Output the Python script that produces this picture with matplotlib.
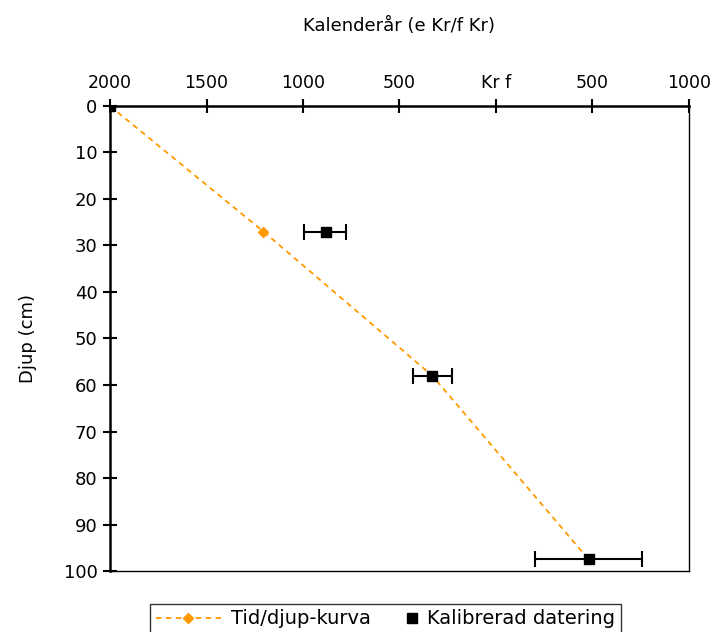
import matplotlib
matplotlib.use("Agg")
import matplotlib.pyplot as plt
from matplotlib.ticker import FixedLocator
from matplotlib.lines import Line2D
from matplotlib.legend_handler import HandlerLine2D

# Age-depth model (calendar year, AD positive / BC negative)
model_years = [2000, 1205, 330, -480]
model_depths = [0, 27, 58, 97.5]

# Calibrated datings
cal_years = [2000, 880, 330, -480]
cal_depths = [0, 27, 58, 97.5]
cal_err_older = [0, 115, 100, 280]   # towards older (left on axis)
cal_err_younger = [0, 105, 100, 275]

x_ticks = [2000, 1500, 1000, 500, 0, -500, -1000]
x_ticklabels = ["2000", "1500", "1000", "500", "Kr f", "500", "1000"]
y_ticks = [0, 10, 20, 30, 40, 50, 60, 70, 80, 90, 100]

plt.rcParams['font.family'] = ['DejaVu Sans']
fig = plt.figure(figsize=(7.13, 6.32), dpi=100)
ax = fig.add_axes([0.1543, 0.0965, 0.9663 - 0.1543, 0.8323 - 0.0965])

orange = '#FF9900'
ax.plot(model_years, model_depths, linestyle=(0, (3, 2.5)), color=orange, lw=1.3,
        marker='D', markersize=5, zorder=2)

# xerr: first row = minus side (smaller year), second = plus side (larger year)
ax.errorbar(cal_years, cal_depths, xerr=[cal_err_younger, cal_err_older], fmt='s',
            color='black', markersize=7, ecolor='black', elinewidth=1.5,
            capsize=6, capthick=1.5, zorder=3)

ax.set_xlim(2000, -1000)
ax.set_ylim(100, 0)
ax.xaxis.set_major_locator(FixedLocator(x_ticks))
ax.set_xticklabels(x_ticklabels)
ax.yaxis.set_major_locator(FixedLocator(y_ticks))
ax.xaxis.tick_top()
ax.xaxis.set_label_position('top')
ax.tick_params(axis='x', direction='inout', length=10, width=1.5, labelsize=12.5, pad=5)
ax.tick_params(axis='y', direction='inout', length=10, width=1.5, labelsize=13, pad=4)
for s in ['left', 'top']:
    ax.spines[s].set_linewidth(1.8)
for s in ['right', 'bottom']:
    ax.spines[s].set_linewidth(1.0)
ax.set_xlabel('Kalenderår (e Kr/f Kr)', fontsize=13, labelpad=31)
ax.set_ylabel('Djup (cm)', fontsize=13, labelpad=19)


class NarrowHandler(HandlerLine2D):
    def __init__(self, width_px, **kw):
        super().__init__(**kw)
        self.width_px = width_px

    def legend_artist(self, legend, orig_handle, fontsize, handlebox):
        handlebox.width = self.width_px
        return super().legend_artist(legend, orig_handle, fontsize, handlebox)


h1 = Line2D([], [], linestyle=(0, (3, 2.5)), color=orange, lw=1.3, marker='D', markersize=5)
h2 = Line2D([], [], linestyle='none', color='black', marker='s', markersize=7)
labels = ['Tid/djup-kurva', 'Kalibrerad datering']
leg = fig.legend([h1, h2], labels, loc='upper left', bbox_to_anchor=(0.2104, 0.045),
                 ncol=2, fontsize=14, frameon=True, fancybox=False, edgecolor='black',
                 columnspacing=1.9, handlelength=3.35, handletextpad=0.5,
                 borderaxespad=0, borderpad=0.3, handler_map={h2: NarrowHandler(7)})
leg.get_frame().set_linewidth(1.0)

fig.savefig('out.png', dpi=100, facecolor='white')
